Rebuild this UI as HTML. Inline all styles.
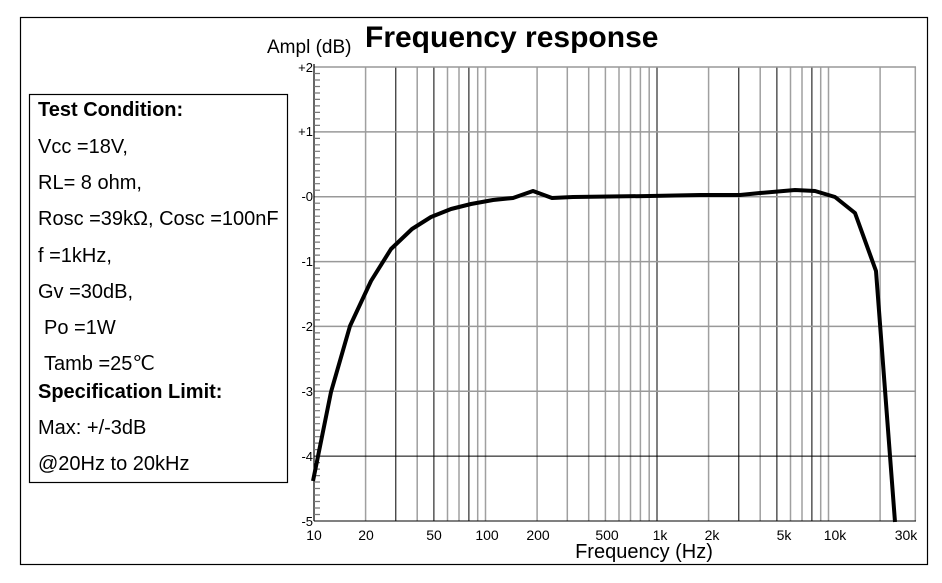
<!DOCTYPE html>
<html><head><style>body{margin:0;background:#fff}svg{display:block}text{font-family:"Liberation Sans",Arial,sans-serif}</style></head>
<body>
<svg width="942" height="583" xmlns="http://www.w3.org/2000/svg">
<rect x="20.5" y="17.5" width="907" height="547" fill="none" stroke="#000" stroke-width="1.2"/>
<g stroke="#a0a0a0" stroke-width="1.5">
<line x1="365.6" y1="67" x2="365.6" y2="521"/>
<line x1="395.8" y1="67" x2="395.8" y2="521" stroke="#000" stroke-width="1"/>
<line x1="417.2" y1="67" x2="417.2" y2="521"/>
<line x1="433.9" y1="67" x2="433.9" y2="521" stroke="#000" stroke-width="1"/>
<line x1="447.5" y1="67" x2="447.5" y2="521"/>
<line x1="459" y1="67" x2="459" y2="521"/>
<line x1="468.9" y1="67" x2="468.9" y2="521" stroke="#000" stroke-width="1"/>
<line x1="477.7" y1="67" x2="477.7" y2="521"/>
<line x1="485.5" y1="67" x2="485.5" y2="521"/>
<line x1="537.1" y1="67" x2="537.1" y2="521"/>
<line x1="567.3" y1="67" x2="567.3" y2="521"/>
<line x1="588.7" y1="67" x2="588.7" y2="521"/>
<line x1="605.4" y1="67" x2="605.4" y2="521"/>
<line x1="619" y1="67" x2="619" y2="521"/>
<line x1="630.5" y1="67" x2="630.5" y2="521"/>
<line x1="640.4" y1="67" x2="640.4" y2="521"/>
<line x1="649.2" y1="67" x2="649.2" y2="521"/>
<line x1="657" y1="67" x2="657" y2="521" stroke="#000" stroke-width="1"/>
<line x1="708.6" y1="67" x2="708.6" y2="521"/>
<line x1="738.8" y1="67" x2="738.8" y2="521" stroke="#000" stroke-width="1"/>
<line x1="760.2" y1="67" x2="760.2" y2="521"/>
<line x1="776.9" y1="67" x2="776.9" y2="521" stroke="#000" stroke-width="1"/>
<line x1="790.5" y1="67" x2="790.5" y2="521"/>
<line x1="802" y1="67" x2="802" y2="521"/>
<line x1="811.9" y1="67" x2="811.9" y2="521" stroke="#000" stroke-width="1"/>
<line x1="820.7" y1="67" x2="820.7" y2="521"/>
<line x1="828.5" y1="67" x2="828.5" y2="521"/>
<line x1="880.1" y1="67" x2="880.1" y2="521"/>
<line x1="915.3" y1="67" x2="915.3" y2="521"/>
</g>
<g stroke="#999" stroke-width="1.5">
<line x1="314" y1="67" x2="916" y2="67"/>
<line x1="314" y1="131.9" x2="916" y2="131.9"/>
<line x1="314" y1="196.7" x2="916" y2="196.7"/>
<line x1="314" y1="261.6" x2="916" y2="261.6"/>
<line x1="314" y1="326.4" x2="916" y2="326.4"/>
<line x1="314" y1="391.3" x2="916" y2="391.3"/>
<line x1="314" y1="456.1" x2="916" y2="456.1" stroke="#000" stroke-width="1"/>
<line x1="314" y1="521" x2="916" y2="521" stroke="#000" stroke-width="1"/>
</g>
<line x1="314" y1="64" x2="314" y2="521" stroke="#000" stroke-width="1.2"/>
<path stroke="#777" stroke-width="1.2" d="
M314 73.5h6M314 80h6M314 86.5h6M314 93h6M314 99.4h6M314 105.9h6M314 112.4h6M314 118.9h6M314 125.4h6
M314 138.4h6M314 144.8h6M314 151.3h6M314 157.8h6M314 164.3h6M314 170.8h6M314 177.3h6M314 183.7h6M314 190.2h6
M314 203.2h6M314 209.7h6M314 216.2h6M314 222.6h6M314 229.1h6M314 235.6h6M314 242.1h6M314 248.6h6M314 255.1h6
M314 268.1h6M314 274.5h6M314 281h6M314 287.5h6M314 294h6M314 300.5h6M314 307h6M314 313.4h6M314 319.9h6
M314 332.9h6M314 339.4h6M314 345.9h6M314 352.3h6M314 358.8h6M314 365.3h6M314 371.8h6M314 378.3h6M314 384.8h6
M314 397.8h6M314 404.2h6M314 410.7h6M314 417.2h6M314 423.7h6M314 430.2h6M314 436.7h6M314 443.1h6M314 449.6h6
M314 462.6h6M314 469.1h6M314 475.6h6M314 482h6M314 488.5h6M314 495h6M314 501.5h6M314 508h6M314 514.5h6"/>
<g font-size="13" text-anchor="end" fill="#000">
<text x="313" y="72">+2</text><text x="313" y="136">+1</text><text x="313" y="201">-0</text>
<text x="313" y="266">-1</text><text x="313" y="331">-2</text><text x="313" y="396">-3</text>
<text x="313" y="461">-4</text><text x="313" y="526">-5</text>
</g>
<g font-size="14" text-anchor="middle" fill="#000">
<text x="314" y="540">10</text><text x="366" y="540">20</text><text x="434" y="540">50</text>
<text x="487" y="540">100</text><text x="538" y="540">200</text><text x="607" y="540">500</text>
<text x="660" y="540">1k</text><text x="712" y="540">2k</text><text x="784" y="540">5k</text>
<text x="835" y="540">10k</text><text x="906" y="540">30k</text>
</g>
<text x="644" y="558" font-size="20" text-anchor="middle">Frequency (Hz)</text>
<text x="267" y="53" font-size="19">Ampl (dB)</text>
<text x="365" y="47" font-size="30" font-weight="bold">Frequency response</text>
<polyline fill="none" stroke="#000" stroke-width="4" stroke-linejoin="round" points="313,481 331,392 350,326 371,281 391,249 412,229 431,217 451,209 471,204 493,200 513,198 533,191 552,198 573,197 650,196 700,195 740,195 760,193 795,190 815,191 835,197 855,213 876,271 895,522"/>
<rect x="29.5" y="94.5" width="258" height="388" fill="#fff" stroke="#000" stroke-width="1.2"/>
<g font-size="20" fill="#000">
<text x="38" y="116" font-weight="bold">Test Condition:</text>
<text x="38" y="153">Vcc =18V,</text>
<text x="38" y="189">RL= 8 ohm,</text>
<text x="38" y="225">Rosc =39kΩ, Cosc =100nF</text>
<text x="38" y="262">f =1kHz,</text>
<text x="38" y="298">Gv =30dB,</text>
<text x="44" y="334">Po =1W</text>
<text x="44" y="370">Tamb =25℃</text>
<text x="38" y="398" font-weight="bold">Specification Limit:</text>
<text x="38" y="434">Max: +/-3dB</text>
<text x="38" y="470">@20Hz to 20kHz</text>
</g>
</svg>
</body></html>
